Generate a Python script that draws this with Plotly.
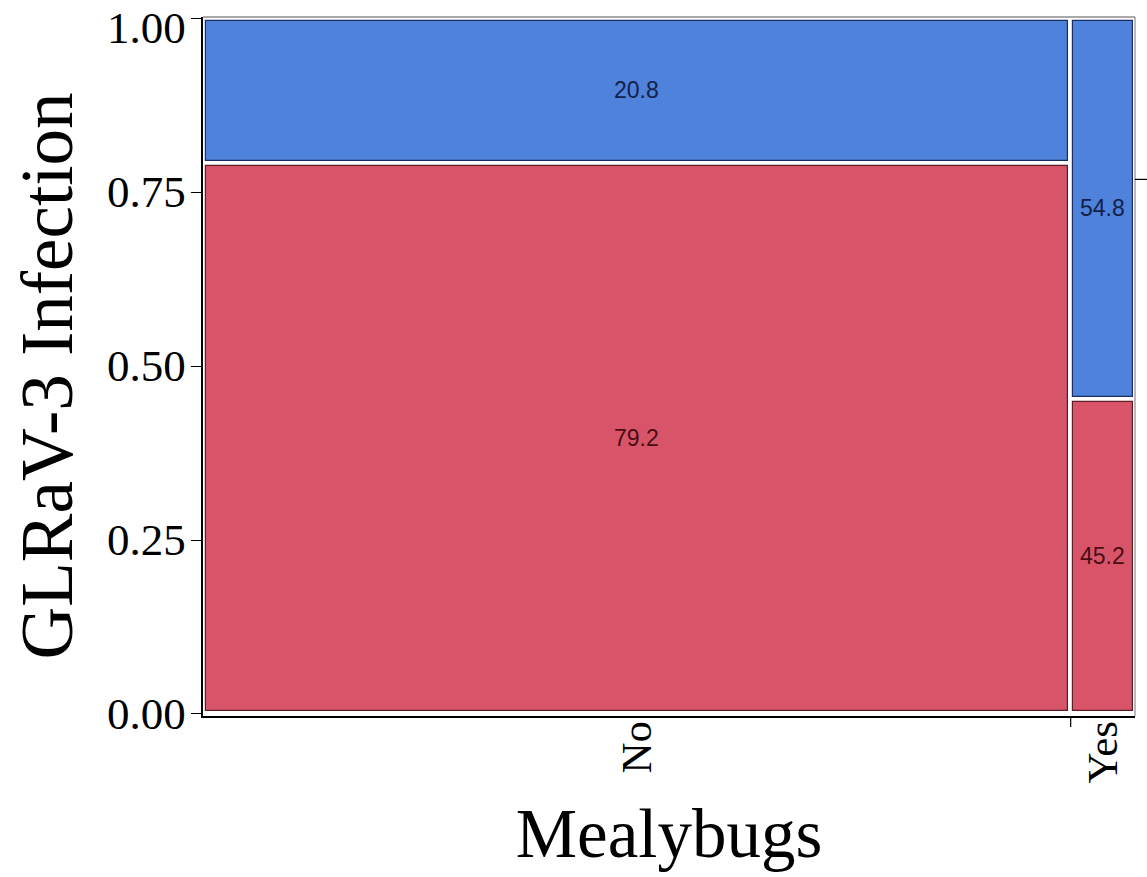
import plotly.graph_objects as go

# Mosaic plot: GLRaV-3 infection share within each mealybug group
mealybugs = ["No", "Yes"]
column_share = [0.931, 0.069]          # share of vines in each mealybug group
pct_uninfected = [79.2, 45.2]          # bottom cells (red)
pct_infected = [20.8, 54.8]            # top cells (blue)
y_tick_vals = [0.0, 0.25, 0.5, 0.75, 1.0]
y_tick_text = ["0.00", "0.25", "0.50", "0.75", "1.00"]

RED = "#D85569"
RED_EDGE = "#5e1c27"
BLUE = "#4F82DA"
BLUE_EDGE = "#1c2d66"

# plot-area geometry (px) used to turn the white cell gap into data units
W, H = 1147, 877
M_L, M_R, M_T, M_B = 203, 12, 17, 161
Y_RANGE = [-0.003, 1.002]
plot_w = W - M_L - M_R
plot_h = H - M_T - M_B
GAP_PX = 5
gap_x = GAP_PX / plot_w
gap_y = GAP_PX / (plot_h / (Y_RANGE[1] - Y_RANGE[0]))

lefts, acc = [], 0.0
for s in column_share:
    lefts.append(acc)
    acc += s
centers = [l + s / 2 for l, s in zip(lefts, column_share)]
boundaries = lefts[1:]

frac_low = [p / 100 for p in pct_uninfected]
frac_high = [p / 100 for p in pct_infected]
overall_low = sum(s * f for s, f in zip(column_share, frac_low))

fig = go.Figure()


def add_cells(bases, heights, pcts, fill, edge, txt):
    fig.add_trace(go.Bar(
        x=centers,
        base=[b + gap_y / 2 for b in bases],
        y=[h - gap_y for h in heights],
        width=[s - gap_x for s in column_share],
        marker=dict(color=fill, line=dict(color=edge, width=1.2)),
        text=[f"{p:.1f}" for p in pcts],
        textposition="inside",
        insidetextanchor="middle",
        textangle=0,
        constraintext="none",
        textfont=dict(family="Liberation Sans", size=23, color=txt),
        hoverinfo="skip",
        showlegend=False,
    ))


add_cells([0.0, 0.0], frac_low, pct_uninfected, RED, RED_EDGE, "#4a0c16")
add_cells(frac_low, frac_high, pct_infected, BLUE, BLUE_EDGE, "#13204a")

# tick marks at the category boundaries on the x axis
for bx in boundaries:
    fig.add_shape(type="line", xref="x", yref="paper", x0=bx, x1=bx,
                  ysizemode="pixel", yanchor=0, y0=0, y1=-11,
                  line=dict(color="black", width=1.2))

# right and top frame lines, with the overall split on the right
fig.add_shape(type="line", xref="paper", yref="paper", x0=1, x1=1, y0=0, y1=1,
              line=dict(color="#8a8a8a", width=1.2))
fig.add_shape(type="line", xref="paper", yref="paper", x0=0, x1=1, y0=1, y1=1,
              line=dict(color="#555555", width=1.2))
fig.add_shape(type="line", xref="paper", yref="y", xsizemode="pixel", xanchor=1,
              x0=0, x1=14, y0=overall_low, y1=overall_low,
              line=dict(color="black", width=1.2))

serif = "Liberation Serif"

# y tick labels; the top one is nudged down so it stays inside the page
for v, t in zip(y_tick_vals, y_tick_text):
    fig.add_annotation(
        x=0, xref="paper", y=v, yref="y", text=t, showarrow=False,
        xanchor="right", yanchor="middle", xshift=-15,
        yshift=-10 if v == max(y_tick_vals) else 0,
        font=dict(family=serif, size=45, color="black"),
    )

# y axis title
fig.add_annotation(
    x=0, xref="paper", y=0.5, yref="paper", text="GLRaV-3 Infection",
    showarrow=False, textangle=-90, xanchor="center", yanchor="middle",
    xshift=-156, yshift=-10,
    font=dict(family=serif, size=73, color="black"),
)

fig.update_layout(
    width=W, height=H,
    margin=dict(l=M_L, r=M_R, t=M_T, b=M_B),
    paper_bgcolor="white", plot_bgcolor="white",
    barmode="overlay", bargap=0,
    xaxis=dict(
        range=[0, 1], tickvals=centers, ticktext=mealybugs,
        tickangle=-90, ticks="", showgrid=False, zeroline=False,
        showline=True, linecolor="black", linewidth=1.5,
        ticklabelstandoff=-14,
        tickfont=dict(family=serif, size=43, color="black"),
        title=dict(text="Mealybugs", font=dict(family=serif, size=69, color="black"),
                   standoff=26),
    ),
    yaxis=dict(
        range=Y_RANGE, tickvals=y_tick_vals, showticklabels=False,
        ticks="outside", ticklen=10, tickwidth=1.2, tickcolor="black",
        showgrid=False, zeroline=False,
        showline=True, linecolor="black", linewidth=1.5,
    ),
)

fig.write_html("out.html")
